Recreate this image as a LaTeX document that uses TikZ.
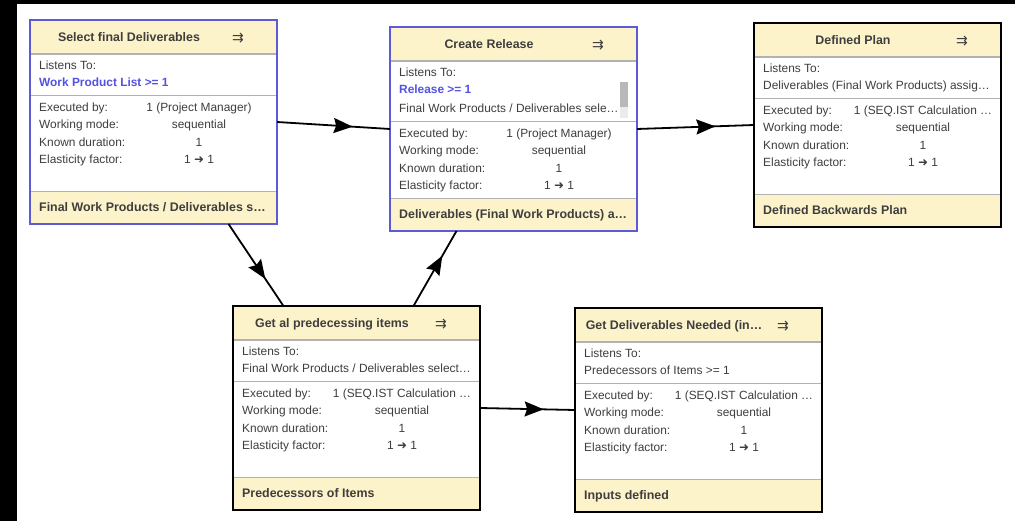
\documentclass[tikz,border=0pt]{standalone}
\usepackage{fontspec}
\setmainfont{Liberation Sans}
\newfontfamily\iconfont{DejaVu Sans}
\usepackage{tikz}
\usetikzlibrary{arrows.meta}
\usetikzlibrary{decorations.markings}

\definecolor{capfill}{RGB}{253,243,202}
\definecolor{taskblue}{RGB}{92,90,214}
\definecolor{linkblue}{RGB}{82,82,226}
\definecolor{textgray}{RGB}{62,62,62}
\definecolor{sepgray}{RGB}{178,178,178}

\tikzset{
	taskframe/.style={rectangle, minimum width=247pt, minimum height=204pt, inner sep=0pt, outer sep=0pt, line width=2.6pt},
	sepline/.style={sepgray, line width=1.3pt},
	lbl/.style={anchor=west, inner sep=0pt, text height=8.5pt, text depth=0pt, text=textgray, font=\fontsize{11.9}{14}\selectfont},
	val/.style={lbl, anchor=center},
	ttl/.style={lbl, anchor=center, font=\fontsize{12.4}{14}\selectfont\bfseries},
	foot/.style={lbl, font=\fontsize{12.4}{14}\selectfont\bfseries},
	icon/.style={lbl, anchor=center, font=\iconfont\fontsize{14}{14}\selectfont},
	flow/.style={line width=1.8pt, postaction={decorate}, decoration={markings, mark=at position 0.67 with {\arrow{Stealth[length=19pt,width=15pt,inset=2.5pt]}}}}
}

% #1 name, #2 x, #3 y, #4 frame, #5 title, #6 listens, #7 extra, #8 executed by, #9 output
\newcommand{\taskbox}[9]{
	\begin{scope}[shift={(#2,#3)}]
		\fill[white] (0,0) rectangle (247,204);
		\fill[capfill] (0,0) rectangle (247,34);
		\fill[capfill] (0,171.5) rectangle (247,204);
		\draw[sepline] (0,34) -- (247,34);
		\draw[sepline] (0,{75.5+#7}) -- (247,{75.5+#7});
		\draw[sepline] (0,171.5) -- (247,171.5);
		
		\node[ttl] at (99,17) {#5};
		\node[icon] at (208,18) {⇉};
		\node[lbl] at (9,45) {Listens To:};
		\node[lbl] at (9,62.5) {#6};
		
		\node[lbl] at (9,{87+#7}) {Executed by:};
		\node[lbl] at (9,{104.5+#7}) {Working mode:};
		\node[lbl] at (9,{122+#7}) {Known duration:};
		\node[lbl] at (9,{139.5+#7}) {Elasticity factor:};
		\node[val] at (169,{87+#7}) {#8};
		\node[val] at (169,{104.5+#7}) {sequential};
		\node[val] at (169,{122+#7}) {1};
		\node[val] at (169,{139.5+#7}) {1 {\iconfont ➜} 1};
		
		\node[foot] at (9,187) {#9};
		\node[taskframe, draw=#4] (#1) at (123.5,102) {};
	\end{scope}
}

\begin{document}
\begin{tikzpicture}[x=1pt, y=-1pt]
	\useasboundingbox (0,0) rectangle (1015,521);
	\fill[black] (0,0) rectangle (17,521);
	\fill[black] (0,0) rectangle (1015,4);
	
	\taskbox{select}{30}{20}{taskblue}{Select final Deliverables}{\color{linkblue}\bfseries Work Product List >= 1}{0}{1 (Project Manager)}{Final Work Products / Deliverables s…}
	\taskbox{release}{390}{27}{taskblue}{Create Release}{\color{linkblue}\bfseries Release >= 1}{19}{1 (Project Manager)}{Deliverables (Final Work Products) a…}
	\taskbox{plan}{754}{23}{black}{Defined Plan}{Deliverables (Final Work Products) assig…}{0}{1 (SEQ.IST Calculation …}{Defined Backwards Plan}
	\taskbox{preds}{233}{306}{black}{Get al predecessing items}{Final Work Products / Deliverables select…}{0}{1 (SEQ.IST Calculation …}{Predecessors of Items}
	\taskbox{inputs}{575}{308}{black}{Get Deliverables Needed (in…}{Predecessors of Items >= 1}{0}{1 (SEQ.IST Calculation …}{Inputs defined}
	
	\node[lbl] at (399,108) {Final Work Products / Deliverables sele…};
	\fill[black!8] (620,82) rectangle (628,118);
	\fill[black!28] (620,82) rectangle (628,107);
	
	\draw[flow] (select.east) -- (release.west);
	\draw[flow] (release.east) -- (plan.west);
	\draw[flow] ([xshift=75pt]select.south) -- ([xshift=-73pt]preds.north);
	\draw[flow] ([xshift=57pt]preds.north) -- ([xshift=-57pt]release.south);
	\draw[flow] (preds.east) -- (inputs.west);
\end{tikzpicture}
\end{document}
